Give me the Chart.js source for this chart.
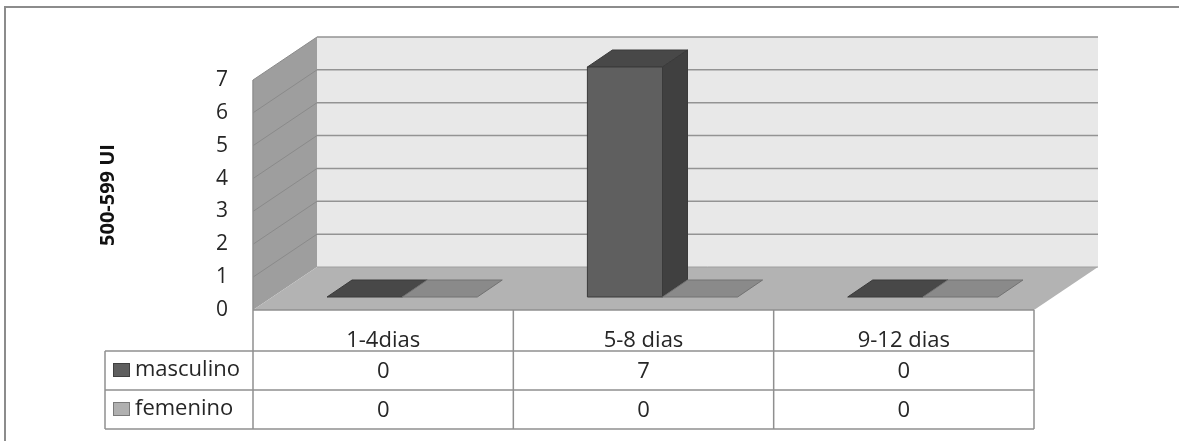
<!DOCTYPE html>
<html>
<head>
<meta charset="utf-8">
<script src="https://cdn.jsdelivr.net/npm/chart.js@4.4.1/dist/chart.umd.min.js"></script>
<style>
  html, body { margin: 0; padding: 0; background: #fff; }
  #grafico { display: block; }
</style>
</head>
<body>
<canvas id="grafico" width="1179" height="441"></canvas>
<script>
// datos
const categorias = ['1-4dias', '5-8 dias', '9-12 dias'];
const series = ['masculino', 'femenino'];
const masculino = [0, 7, 0];
const femenino = [0, 0, 0];
const yMin = 0, yMax = 7, yPaso = 1;
const tituloEje = '500-599 UI';

// desplazamientos de profundidad para el efecto 3D
const PARED = { dx: 64, dy: -43 };
const BARRA_FRENTE = { dx: 19, dy: -13 };
const BARRA_FONDO = { dx: 44, dy: -30 };

const tonos = [
  { frente: '#5f5f5f', tapa: '#484848', lado: '#404040', borde: '#3a3a3a', cuadro: '#5f5f5f', cuadroBorde: '#404040' },
  { frente: '#a6a6a6', tapa: '#8a8a8a', lado: '#7c7c7c', borde: '#727272', cuadro: '#b0b0b0', cuadroBorde: '#7a7a7a' }
];

const FUENTE = "'Open Sans', 'DejaVu Sans', sans-serif";
const TEXTO = '#262626';
Chart.defaults.font.family = FUENTE;

function poligono(ctx, pts, relleno, trazo) {
  ctx.beginPath();
  pts.forEach((p, i) => i ? ctx.lineTo(p[0], p[1]) : ctx.moveTo(p[0], p[1]));
  ctx.closePath();
  if (relleno) { ctx.fillStyle = relleno; ctx.fill(); }
  if (trazo) { ctx.strokeStyle = trazo; ctx.lineWidth = 1; ctx.stroke(); }
}

function linea(ctx, x1, y1, x2, y2, color, ancho) {
  ctx.beginPath();
  ctx.moveTo(x1, y1);
  ctx.lineTo(x2, y2);
  ctx.strokeStyle = color;
  ctx.lineWidth = ancho || 1;
  ctx.stroke();
}

function dibujarCaja(ctx, barra, t) {
  const { x, y, base, width } = barra.getProps(['x', 'y', 'base', 'width'], true);
  const l = x - width / 2, r = x + width / 2;
  const F = BARRA_FRENTE, B = BARRA_FONDO;
  // tapa
  poligono(ctx, [[l + F.dx, y + F.dy], [l + B.dx, y + B.dy], [r + B.dx, y + B.dy], [r + F.dx, y + F.dy]], t.tapa, t.borde);
  if (base - y > 0.5) {
    // lateral derecho
    poligono(ctx, [[r + F.dx, y + F.dy], [r + B.dx, y + B.dy], [r + B.dx, base + B.dy], [r + F.dx, base + F.dy]], t.lado, t.borde);
    // frente
    poligono(ctx, [[l + F.dx, y + F.dy], [r + F.dx, y + F.dy], [r + F.dx, base + F.dy], [l + F.dx, base + F.dy]], t.frente, t.borde);
  }
}

// paredes, piso y barras en perspectiva
const escena3d = {
  id: 'escena3d',
  beforeDraw(chart) {
    const ctx = chart.ctx;
    ctx.save();
    ctx.strokeStyle = '#8c8c8c';
    ctx.lineWidth = 2;
    ctx.strokeRect(5, 7, 1400, 600);
    ctx.restore();
  },
  beforeDatasetsDraw(chart) {
    const ctx = chart.ctx;
    const { left, right, top, bottom } = chart.chartArea;
    const ys = chart.scales.y;
    const dx = PARED.dx, dy = PARED.dy;
    ctx.save();
    // pared lateral
    poligono(ctx, [[left, top], [left + dx, top + dy], [left + dx, bottom + dy], [left, bottom]], '#9e9e9e');
    // pared del fondo
    poligono(ctx, [[left + dx, top + dy], [right + dx, top + dy], [right + dx, bottom + dy], [left + dx, bottom + dy]], '#e8e8e8');
    // líneas de división
    ys.ticks.forEach(t => {
      if (t.value === yMin) return;
      const py = ys.getPixelForValue(t.value);
      linea(ctx, left + dx, py + dy, right + dx, py + dy, '#939393', 1.5);
      linea(ctx, left, py, left + dx, py + dy, '#8a8a8a', 1);
    });
    // piso
    poligono(ctx, [[left, bottom], [left + dx, bottom + dy], [right + dx, bottom + dy], [right, bottom]], '#b3b3b3');
    linea(ctx, left + dx, bottom + dy, right + dx, bottom + dy, '#a0a0a0', 1);
    linea(ctx, left, top, left, bottom, '#8f8f8f', 1.5);
    // barras, de izquierda a derecha
    const metas = chart.data.datasets.map((d, i) => chart.getDatasetMeta(i));
    categorias.forEach((c, j) => {
      metas.forEach((m, i) => dibujarCaja(ctx, m.data[j], tonos[i]));
    });
    ctx.restore();
    return false;
  },
  afterDraw(chart) {
    // tabla de datos bajo el gráfico
    const ctx = chart.ctx;
    const { left, right, bottom } = chart.chartArea;
    const n = categorias.length;
    const ancho = (right - left) / n;
    const xs = chart.scales.x;
    const filas = [bottom, bottom + 41, bottom + 80, bottom + 119];
    const izq = 105;
    const gris = '#8f8f8f';
    ctx.save();
    // bordes
    linea(ctx, left, bottom, right, bottom, gris, 1.5);
    linea(ctx, izq, filas[1], right, filas[1], gris, 1.5);
    linea(ctx, izq, filas[2], right, filas[2], gris, 1.5);
    linea(ctx, izq, filas[3], right, filas[3], gris, 1.5);
    linea(ctx, izq, filas[1], izq, filas[3], gris, 1.5);
    for (let j = 0; j <= n; j++) {
      const x = left + ancho * j;
      linea(ctx, x, bottom, x, filas[3], gris, 1.5);
    }
    // textos
    ctx.fillStyle = TEXTO;
    ctx.font = '22px ' + FUENTE;
    ctx.textAlign = 'center';
    ctx.textBaseline = 'alphabetic';
    const valores = [masculino, femenino];
    categorias.forEach((c, j) => {
      const cx = xs.getPixelForValue(j);
      ctx.fillText(c, cx, filas[0] + 37);
      valores.forEach((v, i) => ctx.fillText(String(v[j]), cx, filas[i + 1] + 27));
    });
    // leyenda en la tabla
    ctx.textAlign = 'left';
    series.forEach((s, i) => {
      const y0 = filas[i + 1];
      ctx.fillStyle = tonos[i].cuadro;
      ctx.fillRect(113, y0 + 12, 17, 14);
      ctx.strokeStyle = tonos[i].cuadroBorde;
      ctx.lineWidth = 1;
      ctx.strokeRect(113.5, y0 + 12.5, 16, 13);
      ctx.fillStyle = TEXTO;
      ctx.fillText(s, 135, y0 + 25);
    });
    ctx.restore();
  }
};

new Chart(document.getElementById('grafico'), {
  type: 'bar',
  data: {
    labels: categorias,
    datasets: [
      { label: series[0], data: masculino, backgroundColor: tonos[0].frente },
      { label: series[1], data: femenino, backgroundColor: tonos[1].frente }
    ]
  },
  options: {
    responsive: false,
    animation: false,
    layout: { padding: { left: 0, top: 80, right: 145, bottom: 131 } },
    datasets: { bar: { barPercentage: 1, categoryPercentage: 0.577 } },
    plugins: { legend: { display: false }, tooltip: { enabled: false } },
    scales: {
      x: { display: false },
      y: {
        min: yMin,
        max: yMax,
        afterFit: s => { s.width = 253; },
        grid: { display: false, drawTicks: false },
        border: { display: false },
        ticks: { stepSize: yPaso, padding: 25, color: TEXTO, font: { size: 21 } },
        title: {
          display: true,
          text: tituloEje,
          color: '#111',
          font: { size: 20, weight: 'bold' },
          padding: { top: 96, bottom: 0 }
        }
      }
    }
  },
  plugins: [escena3d]
});
</script>
</body>
</html>
